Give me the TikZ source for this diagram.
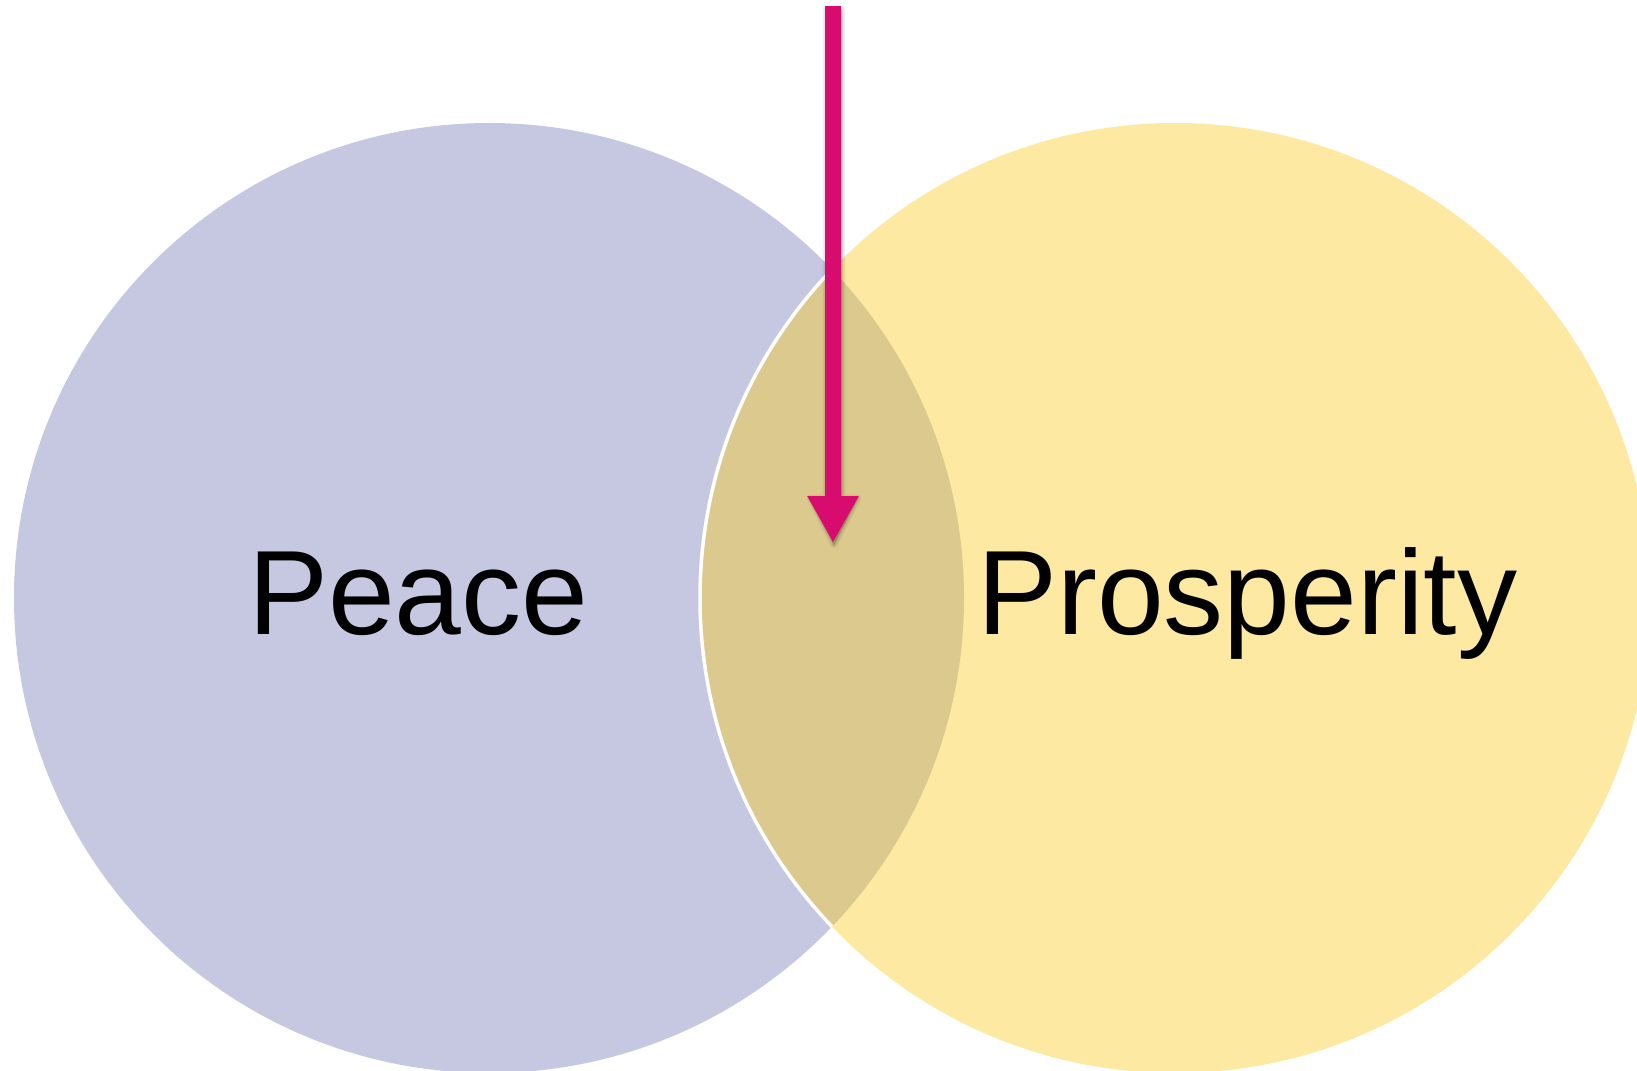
\documentclass[tikz,border=0pt]{standalone}
\usepackage{fontspec}
\setmainfont{Liberation Sans}
\usetikzlibrary{arrows.meta}
\definecolor{lav}{HTML}{C6C8E2}
\definecolor{yel}{HTML}{FDE9A2}
\definecolor{tan}{HTML}{DCC98D}
\definecolor{mag}{HTML}{D80B6E}
\tikzset{
  lbl/.style={anchor=base west, inner sep=0pt, font=\fontsize{120}{140}\selectfont, text=black},
  magarrow/.style={draw=mag, line width=16pt, -{Triangle[width=48pt,length=47pt]}, mag},
  shadowlayer/.style={fill=black, draw=black, line join=round, opacity=0.045, line width=#1}
}
\begin{document}
\begin{tikzpicture}[x=1pt,y=-1pt]
\useasboundingbox (0,0) rectangle (1637,1070);
\clip (0,0) rectangle (1637,1070);
\coordinate (cl) at (489,598);
\coordinate (cr) at (1175,598);
\fill[lav] (cl) circle (475);
\fill[yel] (cr) circle (475);
\begin{scope}
  \clip (cl) circle (475);
  \fill[tan] (cr) circle (475);
  \draw[white, line width=3.5pt] (cr) circle (475);
\end{scope}
\node[lbl] (peace) at (248,634) {Peace};
\node[lbl] (prosp) at (977,634) {Prosperity};
\coordinate (top) at (833,6);
\coordinate (tip) at (833,543);
\begin{scope}[shift={(1,2)}]
  \foreach \w in {1pt,3pt,5pt,7pt}{
    \path[shadowlayer=\w] (825,8) -- (841,8) -- (841,496) -- (857,496) -- (833,543) -- (809,496) -- (825,496) -- cycle;
  }
\end{scope}
\draw[magarrow] (top) -- (tip);
\end{tikzpicture}
\end{document}
